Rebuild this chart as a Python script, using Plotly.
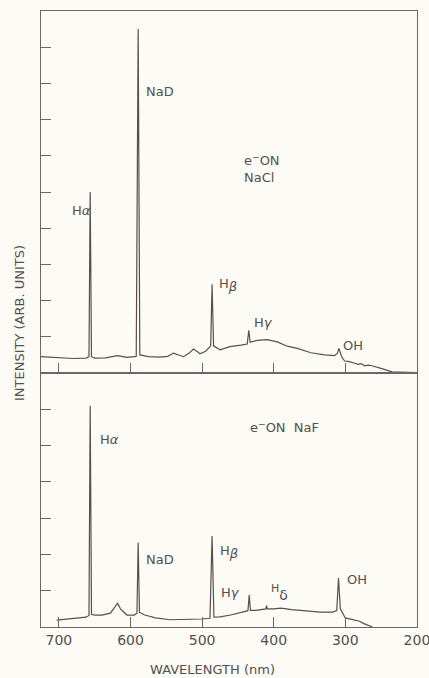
import plotly.graph_objects as go
from plotly.subplots import make_subplots

# ---- Data: e- ON NaCl (top panel) ----
nacl_nm = [725, 710, 695, 680, 662, 658, 656.3, 654.5, 650, 635, 618, 605, 592,
           589.3, 587, 575, 560, 548, 540, 532, 526, 518, 512, 506, 503, 495, 488, 486.1, 484,
           475, 461, 446, 437, 434.8, 433, 423, 409, 395, 381, 367, 348, 329, 315,
           311, 309, 305, 301, 296, 292, 287, 282, 278, 273, 268, 263, 256, 249,
           235, 220, 202]
nacl_int = [0.45, 0.43, 0.41, 0.40, 0.41, 0.45, 5.0, 0.45, 0.41, 0.42, 0.48, 0.43, 0.46,
            9.5, 0.50, 0.45, 0.44, 0.46, 0.55, 0.50, 0.45, 0.55, 0.66, 0.58, 0.53, 0.60, 0.75, 2.45, 0.75,
            0.64, 0.73, 0.77, 0.80, 1.18, 0.85, 0.90, 0.92, 0.86, 0.74, 0.68, 0.56, 0.50, 0.48,
            0.55, 0.68, 0.45, 0.33, 0.32, 0.29, 0.27, 0.24, 0.26, 0.20, 0.22, 0.20, 0.15, 0.12,
            0.03, 0.02, 0.01]

# ---- Data: e- ON NaF (bottom panel) ----
naf_nm = [703, 690, 675, 662, 658, 656.3, 654.5, 650, 640, 628, 622, 618, 614, 605,
          595, 591, 589.3, 587.5, 580, 565, 545, 520, 500, 489, 486.1, 483.5, 475,
          460, 444, 436, 434.2, 432.5, 425, 415, 411, 410, 409, 400, 390, 375, 355,
          335, 318, 312, 309.5, 307, 300, 290, 286, 280, 275, 268, 262]
naf_int = [0.19, 0.21, 0.24, 0.27, 0.32, 6.1, 0.35, 0.33, 0.33, 0.38, 0.55, 0.65, 0.50, 0.33,
           0.33, 0.38, 2.32, 0.40, 0.33, 0.25, 0.20, 0.20, 0.22, 0.24, 2.51, 0.27, 0.28,
           0.33, 0.42, 0.45, 0.88, 0.46, 0.46, 0.48, 0.50, 0.59, 0.50, 0.50, 0.52, 0.48, 0.44,
           0.41, 0.41, 0.45, 1.35, 0.50, 0.25, 0.21, 0.19, 0.16, 0.10, 0.04, 0.0]

x_ticks = [700, 600, 500, 400, 300, 200]
top_yticks = [1, 2, 3, 4, 5, 6, 7, 8, 9]
bot_yticks = [1, 2, 3, 4, 5, 6]

BETA = "H<sub><span style='font-size:13px'><i>β</i></span></sub>"
DELTA = "<sup><span style='font-size:11px'>H</span></sup><sub><span style='font-size:14px'>δ</span></sub>"

# labels: (text, nm, intensity)
top_labels = [("H<i>α</i>", 684, 4.5), ("NaD", 581, 7.77), ("e<sup>−</sup>ON<br>NaCl", 445, 5.65),
              (BETA, 479, 2.42), ("H<i>γ</i>", 430, 1.4), ("OH", 306, 0.77)]
bot_labels = [("H<i>α</i>", 645, 5.17), ("NaD", 581, 1.85), ("e<sup>−</sup>ON  NaF", 436, 5.5),
              (BETA, 478, 2.07), ("H<i>γ</i>", 477, 0.94), (DELTA, 406, 0.94),
              ("OH", 300, 1.3)]

INK = "#5a4e4e"
FRAME = "#6e6666"
BG = "#fcfbf5"
TXT = "#555050"
FONT = "DejaVu Sans"

fig = make_subplots(rows=2, cols=1, shared_xaxes=False, vertical_spacing=0,
                    row_heights=[362, 254])

fig.add_trace(go.Scatter(x=nacl_nm, y=nacl_int, mode="lines",
                         line=dict(color=INK, width=1.2), showlegend=False), row=1, col=1)
fig.add_trace(go.Scatter(x=naf_nm, y=naf_int, mode="lines",
                         line=dict(color=INK, width=1.2), showlegend=False), row=2, col=1)

xcommon = dict(range=[725, 199.9], tickvals=x_ticks, ticks="inside", ticklen=10,
               tickwidth=1, tickcolor=FRAME, showline=True, linecolor=FRAME, linewidth=1,
               mirror=True, showgrid=False, zeroline=False, automargin=False)
fig.update_xaxes(**xcommon, showticklabels=False, row=1, col=1)
fig.update_xaxes(**xcommon, showticklabels=True, ticklabeloverflow="allow",
                 tickfont=dict(family=FONT, size=14, color=TXT), row=2, col=1)

ycommon = dict(ticks="inside", ticklen=10, tickwidth=1, tickcolor=FRAME, showline=True,
               linecolor=FRAME, linewidth=1, mirror=True, showgrid=False, zeroline=False,
               showticklabels=False, automargin=False)
fig.update_yaxes(**ycommon, range=[0, 10], tickvals=top_yticks, row=1, col=1)
fig.update_yaxes(**ycommon, range=[0, 7], tickvals=bot_yticks, row=2, col=1)

for txt, xv, yv in top_labels:
    fig.add_annotation(x=xv, y=yv, xref="x", yref="y", text=txt, showarrow=False,
                       xanchor="left", yanchor="middle", align="left",
                       font=dict(family=FONT, size=13, color=TXT))
for txt, xv, yv in bot_labels:
    fig.add_annotation(x=xv, y=yv, xref="x2", yref="y2", text=txt, showarrow=False,
                       xanchor="left", yanchor="middle", align="left",
                       font=dict(family=FONT, size=13, color=TXT))

fig.add_annotation(x=-0.0585, y=0.4935, xref="paper", yref="paper",
                   text="INTENSITY (ARB. UNITS)", textangle=-90, showarrow=False,
                   xanchor="center", yanchor="middle",
                   font=dict(family=FONT, size=13, color=TXT))
fig.add_annotation(x=0.455, y=-0.0698, xref="paper", yref="paper",
                   text="WAVELENGTH (nm)", showarrow=False,
                   xanchor="center", yanchor="middle",
                   font=dict(family=FONT, size=13, color=TXT))

fig.update_layout(width=429, height=678,
                  margin=dict(l=41, r=12, t=11, b=51, autoexpand=False),
                  paper_bgcolor=BG, plot_bgcolor=BG)

fig.write_html("out.html", config={"displayModeBar": False},
               post_script="document.body.style.margin='0';document.body.style.background='#fcfbf5';")
